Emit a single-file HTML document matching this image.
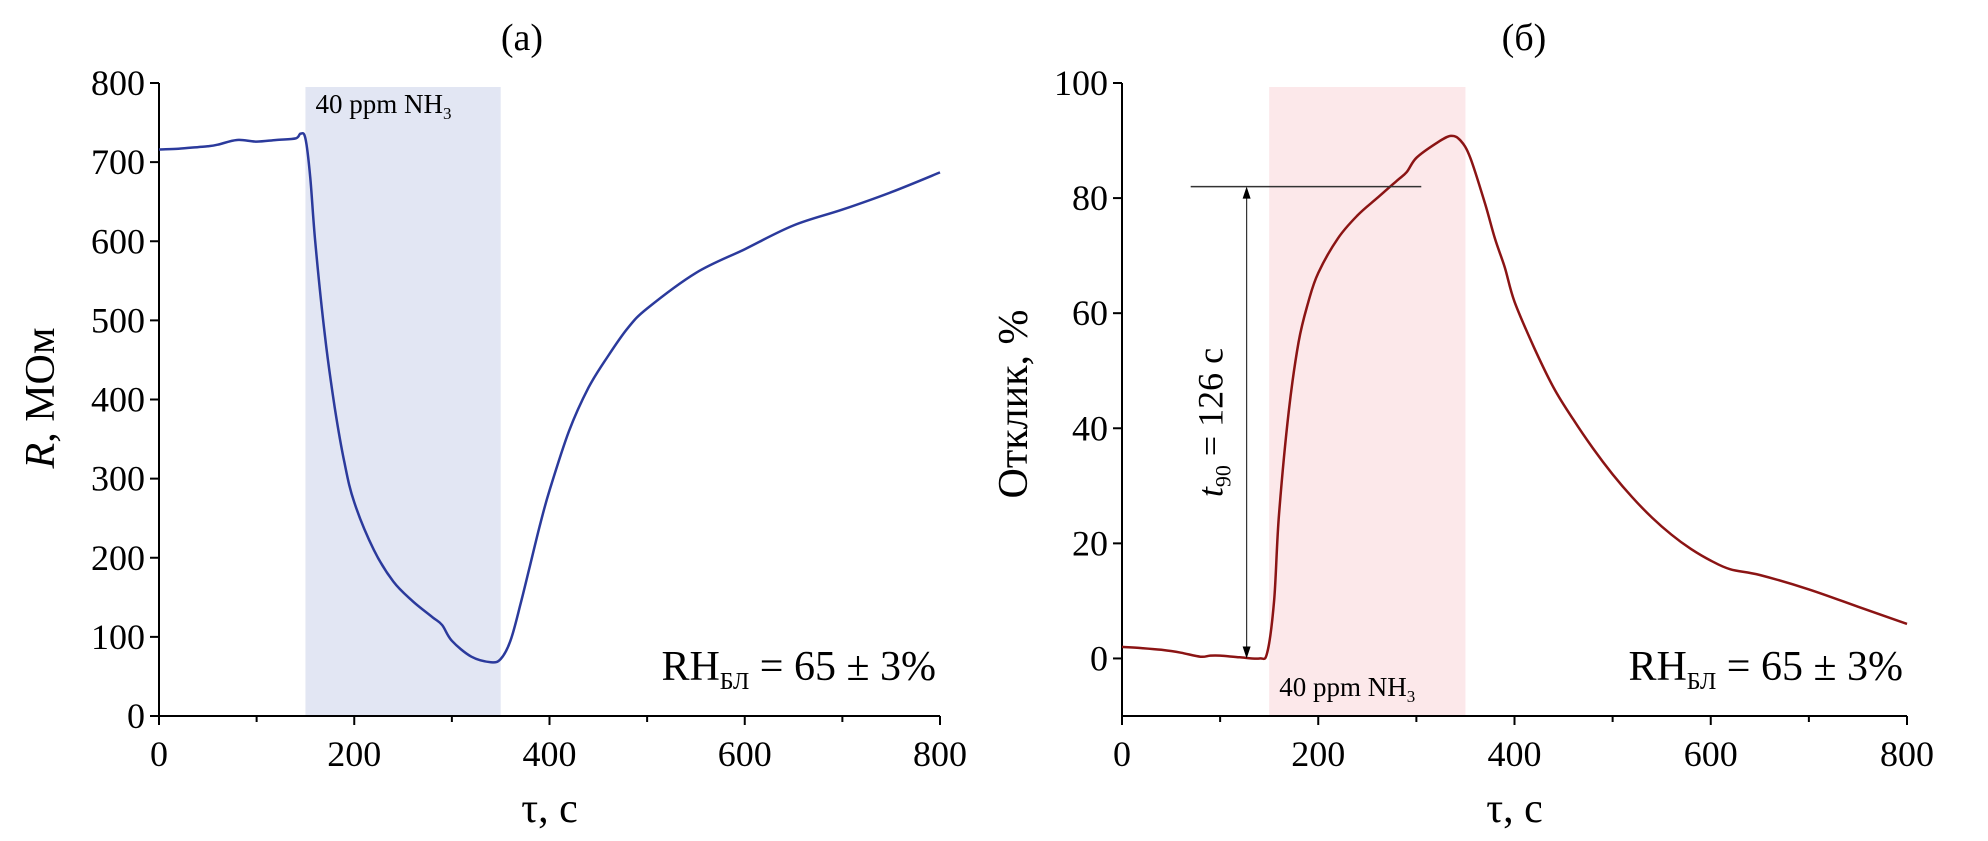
<!DOCTYPE html>
<html><head><meta charset="utf-8">
<style>
html,body{margin:0;padding:0;background:#fff;}
svg{display:block;font-family:"Liberation Serif","DejaVu Serif",serif;}
</style></head>
<body>
<svg id="fig" width="1988" height="841" viewBox="0 0 1988 841" xmlns="http://www.w3.org/2000/svg">
<g id="pa"></g>
<g id="pb"></g>
</svg>
<script>
const ticksX=[0,200,400,600,800];
const ticksA=[0,100,200,300,400,500,600,700,800];
const ticksB=[0,20,40,60,80,100];
const tA=[0,20,40,50,60,80,100,120,140,145,150,155,160,170,180,190,200,220,240,260,280,290,300,320,340,350,360,370,380,390,400,420,440,460,480,500,550,600,650,700,750,800];
const rA=[716,717,719,720,722,728,726,728,730,736,730,680,600,480,390,320,270,210,170,145,125,115,95,75,68,72,95,140,190,240,285,360,415,455,490,515,560,590,620,640,662,687];
const tB=[0,20,40,60,80,90,100,120,140,148,155,160,170,180,190,200,220,240,260,280,290,300,320,335,345,355,370,380,390,400,420,440,460,480,500,520,540,560,580,600,620,650,700,750,800];
const rB=[2,1.8,1.5,1,0.3,0.5,0.5,0.2,0,1,10,25,43,55,62,67,73,77,80,83,84.5,87,89.5,90.8,90,87,79,73,68,62,54,47,41.5,36.5,32,28,24.5,21.5,19,17,15.5,14.5,12,9,6];
const gasStart=[150],gasEnd=[350];
const t90Level=[82],t90Time=[127];

const NS="http://www.w3.org/2000/svg";
function mk(p,tag,at,txt){const e=document.createElementNS(NS,tag);for(const k in at)e.setAttribute(k,at[k]);if(txt!==undefined)e.textContent=txt;p.appendChild(e);return e;}
function smooth(P){let d='M'+P[0][0].toFixed(1)+','+P[0][1].toFixed(1);
 for(let i=0;i<P.length-1;i++){const p0=P[i-1]||P[i],p1=P[i],p2=P[i+1],p3=P[i+2]||p2;
  const c1=[p1[0]+(p2[0]-p0[0])/6,p1[1]+(p2[1]-p0[1])/6],c2=[p2[0]-(p3[0]-p1[0])/6,p2[1]-(p3[1]-p1[1])/6];
  d+=`C${c1[0].toFixed(1)},${c1[1].toFixed(1)} ${c2[0].toFixed(1)},${c2[1].toFixed(1)} ${p2[0].toFixed(1)},${p2[1].toFixed(1)}`;}
 return d;}

function panel(g,o){
 const sx=v=>o.x0+(v/800)*(o.x1-o.x0);
 const sy=v=>o.y0-(v-o.ymin)/(o.ymax-o.ymin)*(o.y0-o.y1);
 const sh=mk(g,'rect',{x:sx(gasStart[0]),y:87,width:sx(gasEnd[0])-sx(gasStart[0]),height:o.y0-87,fill:o.shade});
 
 
 const ax=mk(g,'path',{d:`M${o.x0},${o.y1}V${o.y0}H${o.x1}`,fill:'none',stroke:'#000','stroke-width':2});
 
 
 for(let v=0;v<=800;v+=100){const l=mk(g,'line',{x1:sx(v),x2:sx(v),y1:o.y0,y2:o.y0+(v%200?6:9),stroke:'#000','stroke-width':2});
  
  }
 ticksX.forEach(v=>{const t=mk(g,'text',{x:sx(v),y:o.y0+50,'font-size':36,'text-anchor':'middle'},v);
  
  });
 o.ticks.forEach(v=>{const l=mk(g,'line',{x1:o.x0-9,x2:o.x0,y1:sy(v),y2:sy(v),stroke:'#000','stroke-width':2});
  
  
  const t=mk(g,'text',{x:o.x0-14,y:sy(v)+12,'font-size':36,'text-anchor':'end'},v);
  
  });
 const xt=mk(g,'text',{x:(o.x0+o.x1)/2,y:822,'font-size':42,'text-anchor':'middle'},'τ, с');
 
 
 const tt=mk(g,'text',{x:o.titleX,y:50,'font-size':38,'text-anchor':'middle'},o.title);
 
 
 const ln=mk(g,'path',{d:smooth(o.t.map((v,i)=>[sx(v),sy(o.r[i])])),fill:'none',stroke:o.color,'stroke-width':2.5,'stroke-linejoin':'round'});
 
 
 const rh=mk(g,'text',{x:o.x1-4,y:o.rhY,'font-size':42,'text-anchor':'end'});
 
 
 rh.innerHTML='RH<tspan font-size="24" dy="9">БЛ</tspan><tspan dy="-9"> = 65 ± 3%</tspan>';
 const gl=mk(g,'text',{x:sx(gasStart[0])+10,y:o.gasY,'font-size':27});
 
 
 gl.innerHTML='40 ppm NH<tspan font-size="17" dy="6">3</tspan>';
 return {sx,sy};
}

const A=panel(document.getElementById('pa'),{x0:159,x1:940,y0:716,y1:83,ymin:0,ymax:800,ticks:ticksA,t:tA,r:rA,color:'#2b3a9c',shade:'#e2e6f3',title:'(a)',titleX:522,rhY:680,gasY:113});
const ya=mk(document.getElementById('pa'),'text',{transform:'translate(54,398) rotate(-90)','font-size':42,'text-anchor':'middle'});


ya.innerHTML='<tspan font-style="italic">R</tspan>, МОм';

const gb=document.getElementById('pb');
const B=panel(gb,{x0:1122,x1:1907,y0:716,y1:83,ymin:-10,ymax:100,ticks:ticksB,t:tB,r:rB,color:'#8b1414',shade:'#fce8ea',title:'(б)',titleX:1524,rhY:680,gasY:696});
const yb=mk(gb,'text',{transform:'translate(1027,404) rotate(-90)','font-size':42,'text-anchor':'middle'},'Отклик, %');


const hl=mk(gb,'line',{x1:B.sx(70),x2:B.sx(305),y1:B.sy(t90Level[0]),y2:B.sy(t90Level[0]),stroke:'#333','stroke-width':1.5});


const ax90=B.sx(t90Time[0]);
const vl=mk(gb,'line',{x1:ax90,x2:ax90,y1:B.sy(t90Level[0])+10,y2:B.sy(0)-10,stroke:'#333','stroke-width':1.2});


const ah=mk(gb,'path',{d:`M${ax90},${B.sy(t90Level[0])}l-4,12h8zM${ax90},${B.sy(0)}l-4,-12h8z`,fill:'#000'});


const tl=mk(gb,'text',{transform:`translate(${ax90-24},${(B.sy(t90Level[0])+B.sy(0))/2}) rotate(-90)`,'font-size':36,'text-anchor':'middle'});


tl.innerHTML='<tspan font-style="italic">t</tspan><tspan font-size="22" dy="8">90</tspan><tspan dy="-8"> = 126 с</tspan>';
</script>
</body></html>
